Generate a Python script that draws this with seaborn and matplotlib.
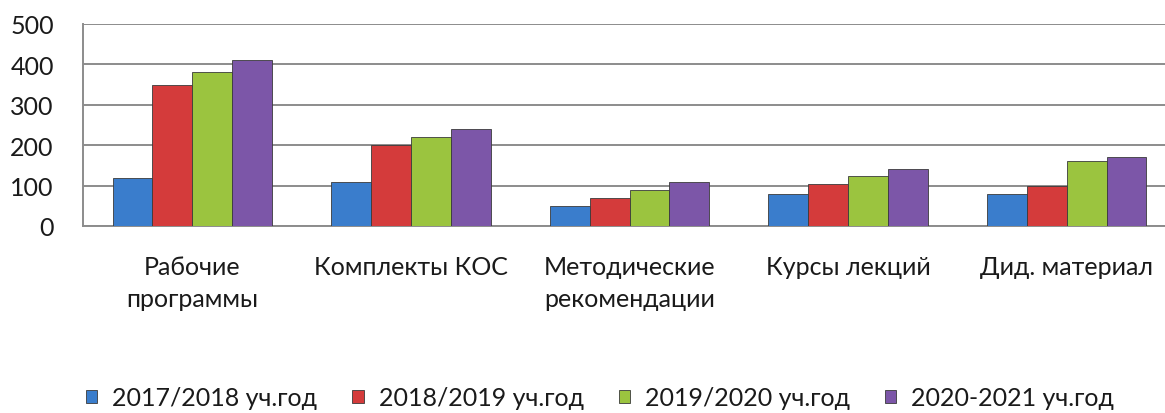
import pandas as pd
import numpy as np
import matplotlib
matplotlib.use("Agg")
import matplotlib.pyplot as plt
import seaborn as sns

# Data
categories = ["Рабочие\nпрограммы", "Комплекты КОС", "Методические\nрекомендации",
              "Курсы лекций", "Дид. материал"]
years = ["2017/2018 уч.год", "2018/2019 уч.год", "2019/2020 уч.год", "2020-2021 уч.год"]
y2017 = [120, 110, 50, 80, 80]
y2018 = [350, 200, 70, 105, 100]
y2019 = [380, 220, 90, 125, 160]
y2020 = [410, 240, 110, 140, 170]
colors = ["#3a7dcc", "#d43b3b", "#9bc43f", "#7c56a8"]

rows = []
for year, vals in zip(years, [y2017, y2018, y2019, y2020]):
    for cat, v in zip(categories, vals):
        rows.append({"cat": cat, "year": year, "value": v})
df = pd.DataFrame(rows)

sns.set_style("white")
plt.rcParams["font.family"] = ["Lato", "DejaVu Sans"]

fig = plt.figure(figsize=(11.65, 4.14), dpi=100)
ax = fig.add_axes([83 / 1165, 1 - 227 / 414, 1093 / 1165, 202 / 414])

sns.barplot(data=df, x="cat", y="value", hue="year", palette=colors, saturation=1,
            width=0.73, edgecolor="#3a3a3a", linewidth=0.6, ax=ax, zorder=3)

ax.set_ylim(0, 500)
ax.set_yticks(range(0, 501, 100))
ax.set_xlim(-0.5, 4.5)
ax.yaxis.grid(True, color="#8c8c8c", linewidth=1.4, zorder=0)
ax.set_axisbelow(True)
for side in ["top", "right"]:
    ax.spines[side].set_visible(False)
ax.spines["left"].set_color("#8c8c8c")
ax.spines["bottom"].set_color("#8c8c8c")
ax.spines["left"].set_linewidth(1.4)
ax.spines["bottom"].set_linewidth(1.4)
ax.set_xlabel("")
ax.set_ylabel("")

# category boundary ticks on the x axis
ax.set_xticks(np.arange(-0.5, 4.6, 1.0), minor=True)
ax.tick_params(axis="x", which="minor", length=7, width=1.2, color="#8c8c8c", direction="out")
ax.tick_params(axis="x", which="major", length=0, pad=21, labelsize=18)
ax.tick_params(axis="y", length=6, width=1.2, color="#8c8c8c", labelsize=18, pad=15)
for lab in ax.get_xticklabels():
    lab.set_linespacing(1.45)
for lab in ax.get_xticklabels() + ax.get_yticklabels():
    lab.set_color("#1a1a1a")

leg = ax.legend(loc="center", bbox_to_anchor=(600 / 1165, 1 - 399 / 414),
                bbox_transform=fig.transFigure, ncol=4, frameon=False,
                fontsize=18, handlelength=0.45, handleheight=0.45, handletextpad=0.6,
                columnspacing=1.4)
for t in leg.get_texts():
    t.set_color("#1a1a1a")

fig.savefig("out.png", dpi=100)
